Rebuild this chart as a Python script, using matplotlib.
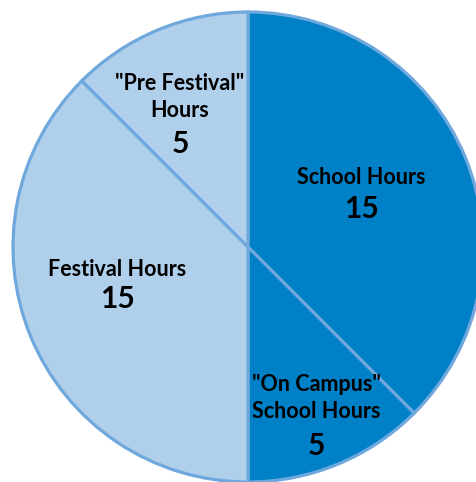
import matplotlib.pyplot as plt

# slice data, clockwise from 12 o'clock
labels = ['School Hours', '"On Campus"\nSchool Hours', 'Festival Hours', '"Pre Festival"\nHours']
hours = [15, 5, 15, 5]
colors = ['#0080c6', '#0080c6', '#afcfeb', '#afcfeb']

# label layout in pixel coords of the original picture: name centre x, name centre y, number y
label_px = [(361, 177, 209), (316, 398, 446), (117, 269, 299), (180, 97, 144)]

W, H = 476, 482
cx, cy, R = 248, 247, 235

fig = plt.figure(figsize=(W / 100, H / 100), dpi=100)
ax = fig.add_axes([0, 0, 1, 1])
ax.pie(hours, colors=colors, startangle=90, counterclock=False, radius=1,
       wedgeprops=dict(edgecolor='#6fa8dc', linewidth=2.3))
ax.set_xlim(-cx / R, (W - cx) / R)
ax.set_ylim(-(H - cy) / R, cy / R)
ax.set_aspect('auto')
ax.axis('off')

for lab, val, (px, py, ny) in zip(labels, hours, label_px):
    x = (px - cx) / R
    ax.text(x, (cy - py) / R, lab, ha='center', va='center', fontsize=15.5,
            fontweight='bold', family='Lato', linespacing=1.38)
    ax.text(x, (cy - ny) / R, str(val), ha='center', va='center',
            fontsize=21.5, fontweight='bold', family='Lato')

fig.savefig('out.png', dpi=100)
